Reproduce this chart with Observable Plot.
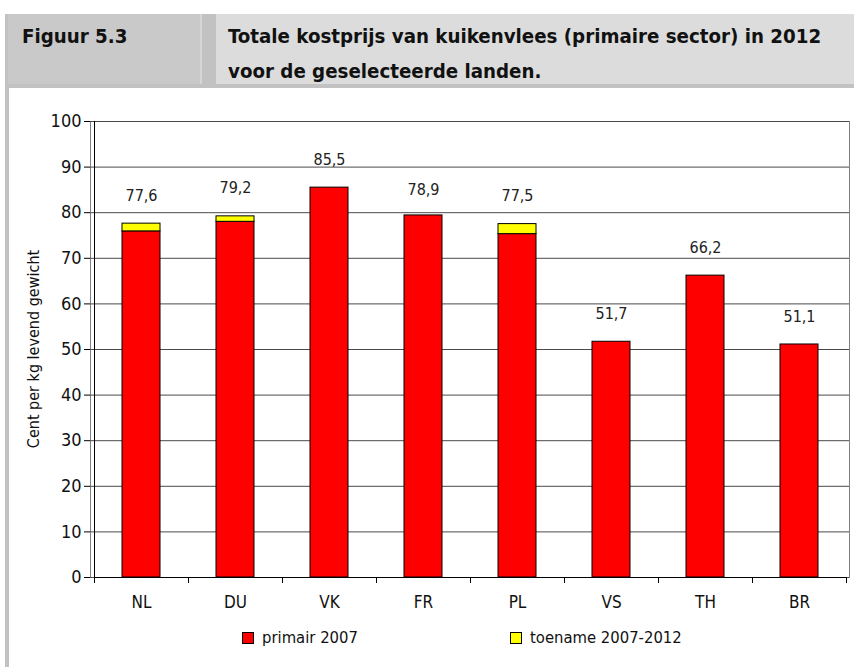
<!DOCTYPE html>
<html><head><meta charset="utf-8">
<script src="https://cdn.jsdelivr.net/npm/d3@7"></script>
<script src="https://cdn.jsdelivr.net/npm/@observablehq/plot@0.6"></script>
<style>
body{margin:0;background:#fff;}
#wrap{position:relative;width:854px;height:667px;overflow:hidden;font-family:"Liberation Sans Narrow","Arial Narrow","DejaVu Sans Condensed",sans-serif;color:#111;}
#band{position:absolute;left:5px;top:14px;width:849px;height:74px;background:#c2c2c2;}
#fig{position:absolute;left:8px;top:14px;width:192px;height:70px;background:#c9c9c9;border-right:2px solid #d6d6d6;}
#ttl{position:absolute;left:216px;top:14px;width:638px;height:70px;background:#dcdcdc;}
.ht{position:absolute;font-family:"Liberation Sans Narrow","Arial Narrow","DejaVu Sans Condensed",sans-serif;font-weight:bold;font-size:20.3px;color:#111;line-height:35px;white-space:nowrap;}
#lborder{position:absolute;left:5px;top:88px;width:4px;height:579px;background:#c2c2c2;}
#chart{position:absolute;left:0;top:100px;}
#ylab{position:absolute;left:33px;top:349px;transform:translate(-50%,-50%) rotate(-90deg);font-size:16px;white-space:nowrap;}
#legend{position:absolute;top:628px;left:0;width:854px;height:20px;font-size:16.5px;}
.li{position:absolute;top:0;display:flex;align-items:center;gap:8px;white-space:nowrap;}
.sw{width:10px;height:10px;border:1px solid #000;display:inline-block;}
</style>
</head><body>
<div id="wrap">
  <div id="band"></div>
  <div id="fig"></div>
  <div id="ttl"></div>
  <div class="ht" style="left:22px;top:19px;">Figuur 5.3</div>
  <div class="ht" style="left:228px;top:19px;">Totale kostprijs van kuikenvlees (primaire sector) in 2012<br>voor de geselecteerde landen.</div>
  <div id="lborder"></div>
  <div id="chart"></div>
  <div id="ylab">Cent per kg levend gewicht</div>
  <div id="legend"></div>
</div>
<script>
const countries = ["NL","DU","VK","FR","PL","VS","TH","BR"];
const primair = [75.9, 78.0, 85.5, 79.4, 75.3, 51.7, 66.2, 51.1];
const toename = [1.7, 1.2, 0, 0, 2.2, 0, 0, 0];
const totals = [77.6, 79.2, 85.5, 78.9, 77.5, 51.7, 66.2, 51.1];
const seriesNames = ["primair 2007", "toename 2007-2012"];
const seriesColors = ["#ff0000", "#ffff00"];
const yTicks = [0,10,20,30,40,50,60,70,80,90,100];

const rows = [];
countries.forEach((c,i) => {
  rows.push({country:c, series:seriesNames[0], value:primair[i]});
  if (toename[i] > 0) rows.push({country:c, series:seriesNames[1], value:toename[i]});
});
const fmt = v => v.toFixed(1).replace(".", ",");

const chart = Plot.plot({
  width: 854, height: 520,
  marginLeft: 90, marginRight: 5, marginTop: 21, marginBottom: 43,
  style: {fontFamily: '"Liberation Sans Narrow","Arial Narrow","DejaVu Sans Condensed",sans-serif', background: "transparent", color: "#111"},
  x: {domain: countries, paddingInner: 0.6, paddingOuter: 0.3, label: null},
  y: {domain: [0, 100], label: null},
  color: {domain: seriesNames, range: seriesColors},
  marks: [
    Plot.frame({stroke: "#808080"}),
    Plot.ruleY(yTicks, {stroke: "#4a4a4a", strokeWidth: 1}),
    Plot.barY(rows, {x: "country", y: "value", fill: "series", stroke: "black", strokeWidth: 1}),
    Plot.text(countries, {x: d => d, y: (d,i) => totals[i], text: (d,i) => fmt(totals[i]), dy: -28, fontSize: 16, fill: "#222"}),
    Plot.axisY({ticks: yTicks, tickSize: 6, tickPadding: 3, fontSize: 18, label: null, stroke: "black"}),
    Plot.axisX({tickSize: 0, tickPadding: 18, fontSize: 17, label: null})
  ]
});
document.getElementById("chart").appendChild(chart);

// axis lines and category boundary ticks from the plot's own scales
const xs = chart.scale("x"), ys = chart.scale("y");
const y0 = ys.apply(0), y100 = ys.apply(100);
const bounds = countries.map(c => xs.apply(c) - (xs.step - xs.bandwidth) / 2);
bounds.push(bounds[bounds.length - 1] + xs.step);
const g = d3.select(chart).append("g").attr("stroke", "black").attr("stroke-width", 1);
g.append("line").attr("x1", bounds[0] + 0.5).attr("x2", bounds[0] + 0.5).attr("y1", y0).attr("y2", y100);
g.append("line").attr("x1", bounds[0]).attr("x2", bounds[bounds.length-1]).attr("y1", y0 + 0.5).attr("y2", y0 + 0.5);
bounds.forEach(b => g.append("line").attr("x1", b + 0.5).attr("x2", b + 0.5).attr("y1", y0).attr("y2", y0 + 6));

// legend
const legend = document.getElementById("legend");
const legendX = [242, 510];
seriesNames.forEach((s,i) => {
  const it = document.createElement("div");
  it.className = "li";
  it.style.left = legendX[i] + "px";
  it.innerHTML = `<span class="sw" style="background:${seriesColors[i]}"></span><span>${s}</span>`;
  legend.appendChild(it);
});
</script>
</body></html>
